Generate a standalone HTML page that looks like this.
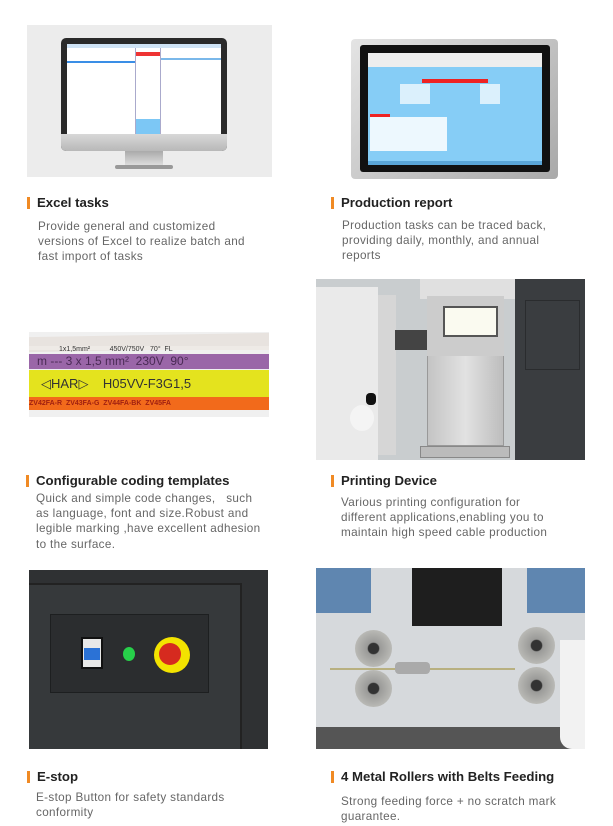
<!DOCTYPE html>
<html><head><meta charset="utf-8"><style>
*{margin:0;padding:0;box-sizing:border-box}
body{width:613px;height:826px;background:#fff;position:relative;overflow:hidden;font-family:"Liberation Sans",sans-serif}
.a{position:absolute}
.h{position:absolute;font-weight:bold;font-size:13.2px;color:#222;line-height:14px;white-space:nowrap}
.h:before{content:"";position:absolute;left:-10px;top:1px;width:3px;height:12px;background:#f08a24}
.t{position:absolute;font-size:11.7px;color:#666;line-height:15.2px;letter-spacing:0.35px;white-space:nowrap}
</style></head><body>

<!-- Row1 left: monitor -->
<div class="a" style="left:27px;top:25px;width:245px;height:152px;background:#ececec"></div>
<div class="a" style="left:61px;top:38px;width:166px;height:113px;background:#2a2a2a;border-radius:5px"></div>
<div class="a" style="left:61px;top:134px;width:166px;height:17px;background:linear-gradient(#d8d8d8,#b8b8b8);border-radius:0 0 5px 5px"></div>
<div class="a" style="left:67px;top:44px;width:154px;height:90px;background:#fff"></div>
<div class="a" style="left:67px;top:44px;width:154px;height:4px;background:#cfe3f5"></div>
<div class="a" style="left:67px;top:61px;width:68px;height:2px;background:#3a8ee6"></div>
<div class="a" style="left:135px;top:48px;width:26px;height:86px;border-left:1px solid #aac;border-right:1px solid #aac"></div>
<div class="a" style="left:136px;top:52px;width:24px;height:4px;background:#e33"></div>
<div class="a" style="left:136px;top:119px;width:24px;height:15px;background:#7cc7f5"></div>
<div class="a" style="left:161px;top:58px;width:60px;height:2px;background:#7ab8ea"></div>
<div class="a" style="left:125px;top:151px;width:38px;height:15px;background:linear-gradient(#aaa,#e0e0e0)"></div>
<div class="a" style="left:115px;top:165px;width:58px;height:4px;background:#999;border-radius:2px"></div>

<!-- Row1 right: tablet -->
<div class="a" style="left:351px;top:39px;width:207px;height:140px;background:linear-gradient(135deg,#e4e4e4,#a9a9a9);border-radius:4px"></div>
<div class="a" style="left:360px;top:45px;width:190px;height:127px;background:#111;border-radius:3px"></div>
<div class="a" style="left:368px;top:53px;width:174px;height:112px;background:#86cdf6"></div>
<div class="a" style="left:368px;top:53px;width:174px;height:14px;background:#eee"></div>
<div class="a" style="left:422px;top:79px;width:66px;height:4px;background:#e22"></div>
<div class="a" style="left:400px;top:84px;width:30px;height:20px;background:#fff;opacity:.7"></div>
<div class="a" style="left:480px;top:84px;width:20px;height:20px;background:#fff;opacity:.7"></div>
<div class="a" style="left:370px;top:117px;width:77px;height:34px;background:#fff;opacity:.85"></div>
<div class="a" style="left:370px;top:114px;width:20px;height:3px;background:#e22"></div>
<div class="a" style="left:368px;top:161px;width:174px;height:4px;background:#5aa6d8"></div>

<div class="h" style="left:37px;top:196px">Excel tasks</div>
<div class="t" style="left:38px;top:219px">Provide general and customized<br>versions of Excel to realize batch and<br>fast import of tasks</div>
<div class="h" style="left:341px;top:196px">Production report</div>
<div class="t" style="left:342px;top:218px">Production tasks can be traced back,<br>providing daily, monthly, and annual<br>reports</div>

<!-- Row2 left: cables -->
<div class="a" style="left:29px;top:332px;width:240px;height:85px;background:#f0f0f0"></div>
<div class="a" style="left:29px;top:335px;width:240px;height:15px;background:#e8e3df;transform:skewY(-1deg)"></div>
<div class="a" style="left:29px;top:346px;width:240px;height:4px;background:#eeeae6"></div>
<div class="a" style="left:29px;top:354px;width:240px;height:15px;background:#9a66a8;color:#4a2a55;font-size:12px;line-height:15px;padding-left:8px;white-space:nowrap;overflow:hidden">m --- 3 x 1,5 mm² &nbsp;230V &nbsp;90°</div>
<div class="a" style="left:29px;top:345px;width:240px;height:9px;color:#333;font-size:7px;line-height:9px;padding-left:30px;white-space:nowrap;overflow:hidden">1x1,5mm² &nbsp;&nbsp;&nbsp;&nbsp;&nbsp;&nbsp;&nbsp;&nbsp;&nbsp;450V/750V &nbsp;&nbsp;70° &nbsp;FL</div>
<div class="a" style="left:29px;top:370px;width:240px;height:27px;background:#e4e31e;color:#333;font-size:13px;line-height:27px;padding-left:12px;white-space:nowrap;overflow:hidden">◁HAR▷ &nbsp;&nbsp;&nbsp;H05VV-F3G1,5</div>
<div class="a" style="left:29px;top:397px;width:240px;height:13px;background:#f26a1b;color:#a02010;font-size:7px;line-height:13px;white-space:nowrap;overflow:hidden;font-weight:bold">ZV42FA-R &nbsp;ZV43FA-G &nbsp;ZV44FA-BK &nbsp;ZV45FA</div>

<!-- Row2 right: printer -->
<div class="a" style="left:316px;top:279px;width:269px;height:181px;background:#c9cdcf"></div>
<div class="a" style="left:316px;top:287px;width:62px;height:173px;background:#eaeaea"></div>
<div class="a" style="left:378px;top:295px;width:18px;height:160px;background:#d6d6d6"></div>
<div class="a" style="left:420px;top:279px;width:110px;height:20px;background:#e0e0e0"></div>
<div class="a" style="left:395px;top:330px;width:40px;height:20px;background:#444"></div>
<div class="a" style="left:515px;top:279px;width:70px;height:181px;background:#3a3d40"></div>
<div class="a" style="left:525px;top:300px;width:55px;height:70px;border:1px solid #2a2c2e"></div>
<div class="a" style="left:427px;top:296px;width:77px;height:150px;background:linear-gradient(90deg,#c4c4c4,#e2e2e2,#bdbdbd);border:1px solid #999"></div>
<div class="a" style="left:427px;top:296px;width:77px;height:60px;background:#ccc"></div>
<div class="a" style="left:443px;top:306px;width:55px;height:31px;background:#fafaf0;border:2px solid #555"></div>
<div class="a" style="left:420px;top:446px;width:90px;height:12px;background:#bbb;border:1px solid #888"></div>
<div class="a" style="left:350px;top:405px;width:24px;height:26px;background:#f4f4f4;border-radius:50%"></div>
<div class="a" style="left:366px;top:393px;width:10px;height:12px;background:#111;border-radius:4px"></div>

<div class="h" style="left:341px;top:474px">Printing Device</div>
<div class="t" style="left:341px;top:495px">Various printing configuration for<br>different applications,enabling you to<br>maintain high speed cable production</div>
<div class="h" style="left:36px;top:474px">Configurable coding templates</div>
<div class="t" style="left:36px;top:491px">Quick and simple code changes,&nbsp;&nbsp; such<br>as language, font and size.Robust and<br>legible marking ,have excellent adhesion<br>to the surface.</div>

<!-- Row3 left: e-stop -->
<div class="a" style="left:29px;top:570px;width:239px;height:179px;background:#2f3133"></div>
<div class="a" style="left:29px;top:583px;width:213px;height:166px;background:#36393b;border-right:2px solid #222;border-top:2px solid #222"></div>
<div class="a" style="left:50px;top:614px;width:159px;height:79px;background:#2b2d2f;border:1px solid #1d1f20"></div>
<div class="a" style="left:81px;top:637px;width:22px;height:32px;background:#e8e8e8;border:2px solid #111"></div>
<div class="a" style="left:84px;top:648px;width:16px;height:12px;background:#2b72d6"></div>
<div class="a" style="left:123px;top:647px;width:12px;height:14px;background:#27d04a;border-radius:50%"></div>
<div class="a" style="left:154px;top:637px;width:36px;height:36px;background:#f3e300;border-radius:50%"></div>
<div class="a" style="left:159px;top:643px;width:22px;height:22px;background:#d62a1f;border-radius:50%"></div>

<!-- Row3 right: rollers -->
<div class="a" style="left:316px;top:568px;width:269px;height:181px;background:#d6d9dc"></div>
<div class="a" style="left:316px;top:568px;width:55px;height:45px;background:#5f86b0"></div>
<div class="a" style="left:527px;top:568px;width:58px;height:45px;background:#5f86b0"></div>
<div class="a" style="left:412px;top:568px;width:90px;height:58px;background:#1e1e1e"></div>
<div class="a" style="left:316px;top:727px;width:269px;height:22px;background:#555"></div>
<div class="a" style="left:560px;top:640px;width:25px;height:109px;background:#f2f2f2;border-radius:0 0 0 12px"></div>
<div class="a" style="left:330px;top:668px;width:185px;height:2px;background:#b8b080"></div>
<div class="a" style="left:395px;top:662px;width:35px;height:12px;background:#aaa;border-radius:4px"></div>
<div class="a" style="left:355px;top:630px;width:37px;height:37px;background:radial-gradient(#333 20%,#9a9a98 24%,#b9b9b5 70%,#777 100%);border-radius:50%"></div>
<div class="a" style="left:355px;top:670px;width:37px;height:37px;background:radial-gradient(#333 20%,#9a9a98 24%,#b9b9b5 70%,#777 100%);border-radius:50%"></div>
<div class="a" style="left:518px;top:627px;width:37px;height:37px;background:radial-gradient(#333 20%,#9a9a98 24%,#b9b9b5 70%,#777 100%);border-radius:50%"></div>
<div class="a" style="left:518px;top:667px;width:37px;height:37px;background:radial-gradient(#333 20%,#9a9a98 24%,#b9b9b5 70%,#777 100%);border-radius:50%"></div>

<div class="h" style="left:37px;top:770px">E-stop</div>
<div class="t" style="left:36px;top:790px">E-stop Button for safety standards<br>conformity</div>
<div class="h" style="left:341px;top:770px">4 Metal Rollers with Belts Feeding</div>
<div class="t" style="left:341px;top:794px">Strong feeding force + no scratch mark<br>guarantee.</div>
</body></html>
